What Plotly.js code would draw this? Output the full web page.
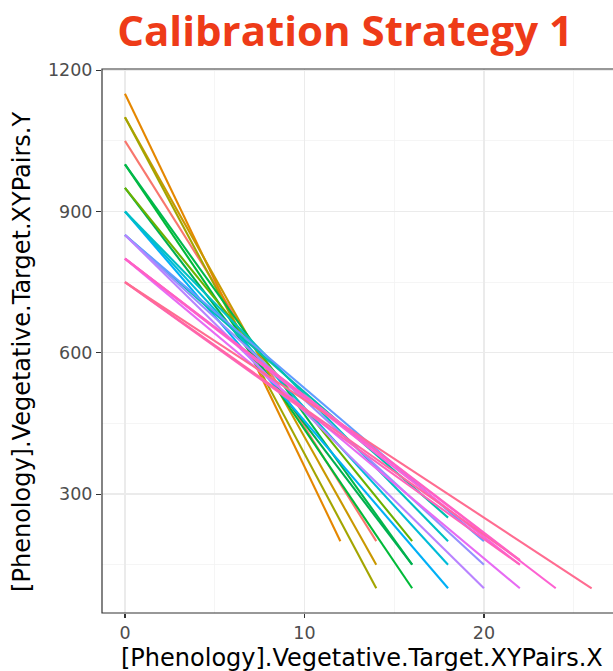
<!DOCTYPE html>
<html>
<head>
<meta charset="utf-8">
<script src="https://cdn.plot.ly/plotly-3.0.1.min.js"></script>
<style>html,body{margin:0;padding:0;background:#fff;}#chart{width:613px;height:671px;}</style>
</head>
<body>
<div id="chart"></div>
<script>
// Each line runs from (0, startY) to (endX, endY)
const startY = [1050, 1150, 1100, 1100, 1000, 1000, 950, 950, 900, 900, 900, 850, 850, 850, 850, 800, 800, 750, 800, 750, 750, 800];
const endX   = [14,   12,   14,   14,   16,   16,   16,  16,  18,  18,  18,  18,  20,  20,  20,  22,  22,  22,  24,  22,  26,  22];
const endY   = [200,  200,  150,  100,  100,  150,  150, 200, 100, 150, 200, 250, 200, 150, 100, 100, 150, 150, 100, 160, 100, 160];
const xTicks = [0, 10, 20];
const yTicks = [300, 600, 900, 1200];

const palette = ['#F8766D','#E58700','#C99800','#A3A500','#00BA38','#00B84A','#00B050','#6BB100',
  '#00B0F6','#00BCD8','#00BFC4','#00C0AF','#619CFF','#9590FF','#B983FF','#E76BF3','#FA62DB','#FF62BC','#FD61D1','#FF67A4','#FF6C91','#FF61C3'];

const traces = startY.map((y0, i) => ({
  type: 'scatter', mode: 'lines',
  x: [0, endX[i]], y: [y0, endY[i]],
  line: {color: palette[i % palette.length], width: 2.1},
  showlegend: false, hoverinfo: 'skip'
}));

const tickFont = {family: 'DejaVu Sans', size: 17.5, color: '#4D4D4D'};
const titleFont = {family: 'DejaVu Sans', size: 24, color: '#000'};
const layout = {
  width: 613, height: 671,
  margin: {l: 102, r: 0, t: 69, b: 58},
  paper_bgcolor: '#fff', plot_bgcolor: '#fff',
  title: {text: 'Calibration Strategy 1', font: {family: 'Open Sans', size: 42, color: '#EE3B18', weight: 'bold'},
    x: 0.563, xref: 'container', xanchor: 'center', y: 0.954, yref: 'container', yanchor: 'middle'},
  xaxis: {range: [-1.28, 27.19], tickvals: xTicks, ticktext: xTicks.map(String), showgrid: true,
    gridcolor: '#EBEBEB', gridwidth: 1.2, zeroline: false, showline: false,
    ticks: 'outside', ticklen: 4, tickcolor: '#333333', tickwidth: 1.1, tickfont: tickFont,
    minor: {tickvals: [5, 15, 25], showgrid: true, gridcolor: '#F2F2F2', gridwidth: 0.8, ticks: ''}},
  yaxis: {range: [47.5, 1202.5], tickvals: yTicks, ticktext: yTicks.map(String), showgrid: true,
    gridcolor: '#EBEBEB', gridwidth: 1.2, zeroline: false, showline: false,
    ticks: 'outside', ticklen: 5, tickcolor: '#333333', tickwidth: 1.1, tickfont: tickFont,
    minor: {tickvals: [150, 450, 750, 1050], showgrid: true, gridcolor: '#F2F2F2', gridwidth: 0.8, ticks: ''}},
  annotations: [
    {text: '[Phenology].Vegetative.Target.XYPairs.X', font: titleFont, showarrow: false,
      xref: 'paper', yref: 'paper', x: 0.508, y: 0, xanchor: 'center', yanchor: 'middle', yshift: -45},
    {text: '[Phenology].Vegetative.Target.XYPairs.Y', font: titleFont, showarrow: false, textangle: -90,
      xref: 'paper', yref: 'paper', x: 0, y: 0.48, xanchor: 'center', yanchor: 'middle', xshift: -80}
  ],
  shapes: [{type: 'rect', xref: 'paper', yref: 'paper', x0: 0, x1: 1.02, y0: 0, y1: 1,
    line: {color: '#333333', width: 1.2}, fillcolor: 'rgba(0,0,0,0)', layer: 'above'}]
};

Plotly.newPlot('chart', traces, layout, {displayModeBar: false, staticPlot: true});
</script>
</body>
</html>
